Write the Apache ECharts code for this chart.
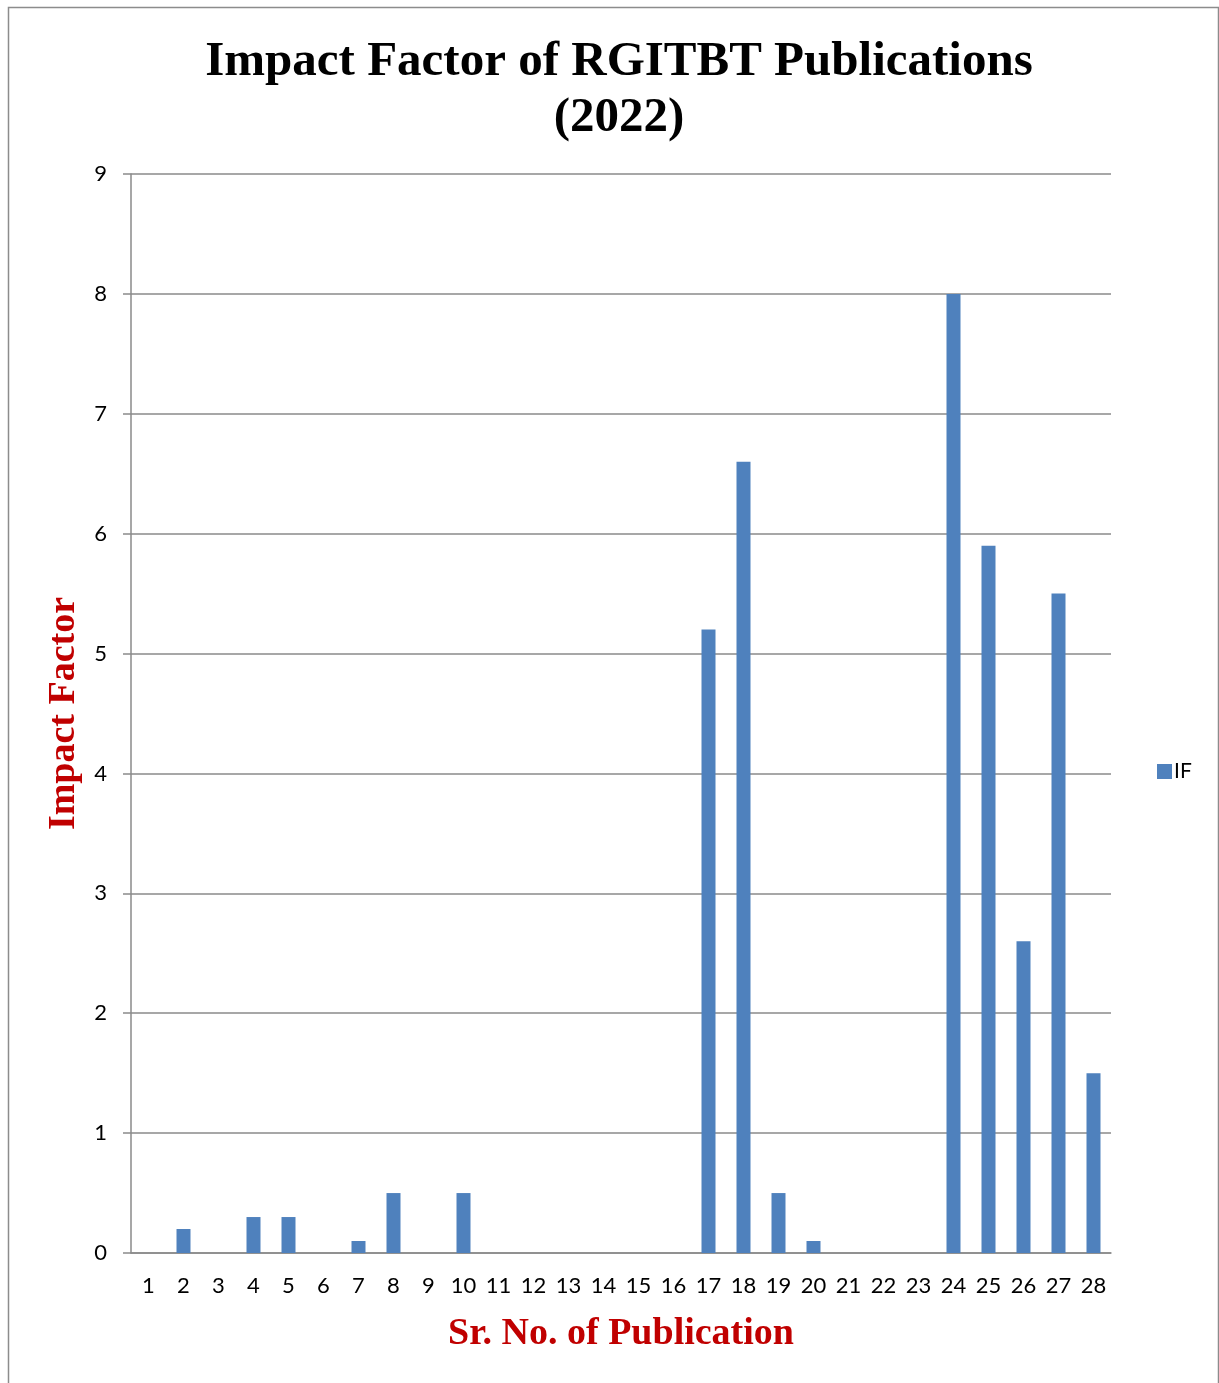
<!DOCTYPE html>
<html>
<head>
<meta charset="utf-8">
<script src="https://cdn.jsdelivr.net/npm/echarts@6/dist/echarts.min.js"></script>
<style>
html,body{margin:0;padding:0;background:#fff;}
#chart{width:1219px;height:1383px;}
</style>
</head>
<body>
<div id="chart"></div>
<script>
var categories = ['1','2','3','4','5','6','7','8','9','10','11','12','13','14','15','16','17','18','19','20','21','22','23','24','25','26','27','28'];
var ifValues = [0,0.2,0,0.3,0.3,0,0.1,0.5,0,0.5,0,0,0,0,0,0,5.2,6.6,0.5,0.1,0,0,0,8.0,5.9,2.6,5.5,1.5];
var yTicks = [0,1,2,3,4,5,6,7,8,9];
var chartTitle = 'Impact Factor of RGITBT Publications\n(2022)';
var xName = 'Sr. No. of Publication';
var yName = 'Impact Factor';
var seriesName = 'IF';

var chart = echarts.init(document.getElementById('chart'));
var serif = '"Liberation Serif", "DejaVu Serif", serif';
var sans = 'Lato, "Open Sans", sans-serif';
chart.setOption({
  animation: false,
  backgroundColor: '#fff',
  graphic: [{
    type: 'polyline',
    shape: {points: [[8.5,1383],[8.5,7.5],[1218.5,7.5],[1218.5,1383]]},
    style: {stroke: '#8c8c8c', lineWidth: 1.5, fill: null}
  }],
  title: {
    text: chartTitle,
    left: 614, top: 29, textAlign: 'center',
    textStyle: {fontFamily: serif, fontWeight: 'bold', fontSize: 49, lineHeight: 56, color: '#000'}
  },
  legend: {
    data: [seriesName],
    left: 1152, top: 756, orient: 'vertical',
    itemWidth: 15, itemHeight: 15, itemGap: 8,
    icon: 'rect',
    textStyle: {fontFamily: sans, fontSize: 21, color: '#000', padding: [0,0,0,-3]}
  },
  grid: {left: 131, right: 108, top: 174, bottom: 130, containLabel: false},
  xAxis: {
    type: 'category',
    data: categories,
    name: xName,
    nameLocation: 'middle',
    nameGap: 62,
    nameTextStyle: {fontFamily: serif, fontWeight: 'bold', fontSize: 38, color: '#c00000'},
    axisLine: {lineStyle: {color: '#8a8a8a', width: 1.5}},
    axisTick: {show: false},
    axisLabel: {fontFamily: sans, fontSize: 22, color: '#000', margin: 22, interval: 0}
  },
  yAxis: {
    type: 'value',
    min: 0, max: 9, interval: 1,
    name: yName,
    nameLocation: 'middle',
    nameGap: 47,
    nameRotate: 90,
    nameTextStyle: {fontFamily: serif, fontWeight: 'bold', fontSize: 38, color: '#c00000'},
    axisLine: {show: true, lineStyle: {color: '#8a8a8a', width: 1.5}},
    axisTick: {show: true, length: 8, lineStyle: {color: '#8a8a8a', width: 1.5}},
    axisLabel: {fontFamily: sans, fontSize: 22, color: '#000', margin: 24,
      formatter: function(v){ return yTicks.indexOf(v) >= 0 ? String(v) : ''; }},
    splitLine: {lineStyle: {color: '#8a8a8a', width: 1.5}}
  },
  series: [{
    name: seriesName,
    type: 'bar',
    data: ifValues,
    barWidth: '40%',
    itemStyle: {color: '#4f81bd'}
  }]
});
</script>
</body>
</html>
